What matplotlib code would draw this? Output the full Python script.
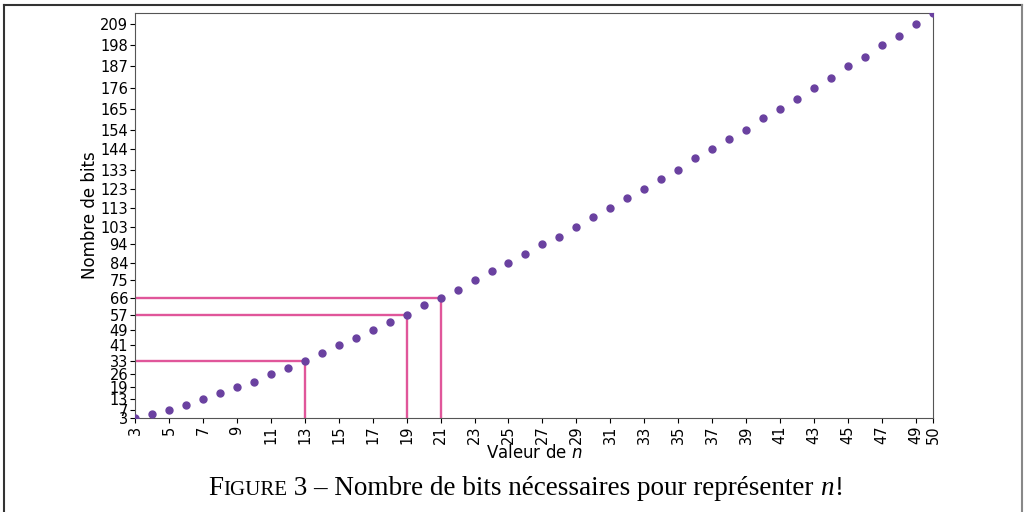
import matplotlib.pyplot as plt
from matplotlib.lines import Line2D
from matplotlib.offsetbox import TextArea, HPacker, AnchoredOffsetbox

# values of n and the number of bits needed to write n!
n_values = list(range(3, 51))
bits = [3, 5, 7, 10, 13, 16, 19, 22, 26, 29, 33, 37, 41, 45, 49, 53, 57, 62,
        66, 70, 75, 80, 84, 89, 94, 98, 103, 108, 113, 118, 123, 128, 133,
        139, 144, 149, 154, 160, 165, 170, 176, 181, 187, 192, 198, 203, 209,
        215]

x_ticks = list(range(3, 50, 2)) + [50]
y_ticks = [3, 7, 13, 19, 26, 33, 41, 49, 57, 66, 75, 84, 94, 103, 113, 123,
           133, 144, 154, 165, 176, 187, 198, 209]
marked_n = [13, 19, 21]   # points with guide lines

dot_color = '#6a41a0'
line_color = '#e0569a'

fig = plt.figure(figsize=(10.24, 5.12), dpi=100)
ax = fig.add_axes([0.1318, 0.1836, 0.7793, 0.791])

# guide lines
for m in marked_n:
    b = bits[n_values.index(m)]
    ax.plot([3, m], [b, b], color=line_color, lw=1.7, zorder=2)
    ax.plot([m, m], [3, b], color=line_color, lw=1.7, zorder=2)

ax.plot(n_values, bits, 'o', color=dot_color, markersize=5, zorder=3)

ax.set_xlim(3, 50)
ax.set_ylim(3, 215)
ax.set_xticks(x_ticks)
ax.set_yticks(y_ticks)
ax.tick_params(axis='x', labelrotation=90, labelsize=10.5, pad=2)
ax.tick_params(axis='y', labelsize=10.5, pad=1.5)
for s in ax.spines.values():
    s.set_color('#555555')
ax.set_xlabel("Valeur de $n$", fontsize=12, labelpad=0)
ax.set_ylabel("Nombre de bits", fontsize=12, labelpad=1)

# outer frame of the figure
fig.add_artist(Line2D([0.004, 0.004], [0, 0.99], color='#333333', lw=1.5))
fig.add_artist(Line2D([0.004, 0.998], [0.99, 0.99], color='#333333', lw=1.5))
fig.add_artist(Line2D([0.998, 0.998], [0, 0.99], color='#888888', lw=1.5))

# caption with small caps
serif = 'Liberation Serif'
parts = [
    TextArea("F", textprops=dict(family=serif, size=19.5)),
    TextArea("IGURE", textprops=dict(family=serif, size=15)),
    TextArea(" 3 – Nombre de bits nécessaires pour représenter ",
             textprops=dict(family=serif, size=19.5)),
    TextArea("n", textprops=dict(family=serif, size=19.5, style='italic')),
    TextArea("!", textprops=dict(family=serif, size=19.5)),
]
box = HPacker(children=parts, align='baseline', pad=0, sep=0)
anchored = AnchoredOffsetbox(loc='center', child=box, frameon=False,
                             bbox_to_anchor=(0.513, 0.045),
                             bbox_transform=fig.transFigure, borderpad=0)
fig.add_artist(anchored)

plt.savefig('out.png', dpi=100)
